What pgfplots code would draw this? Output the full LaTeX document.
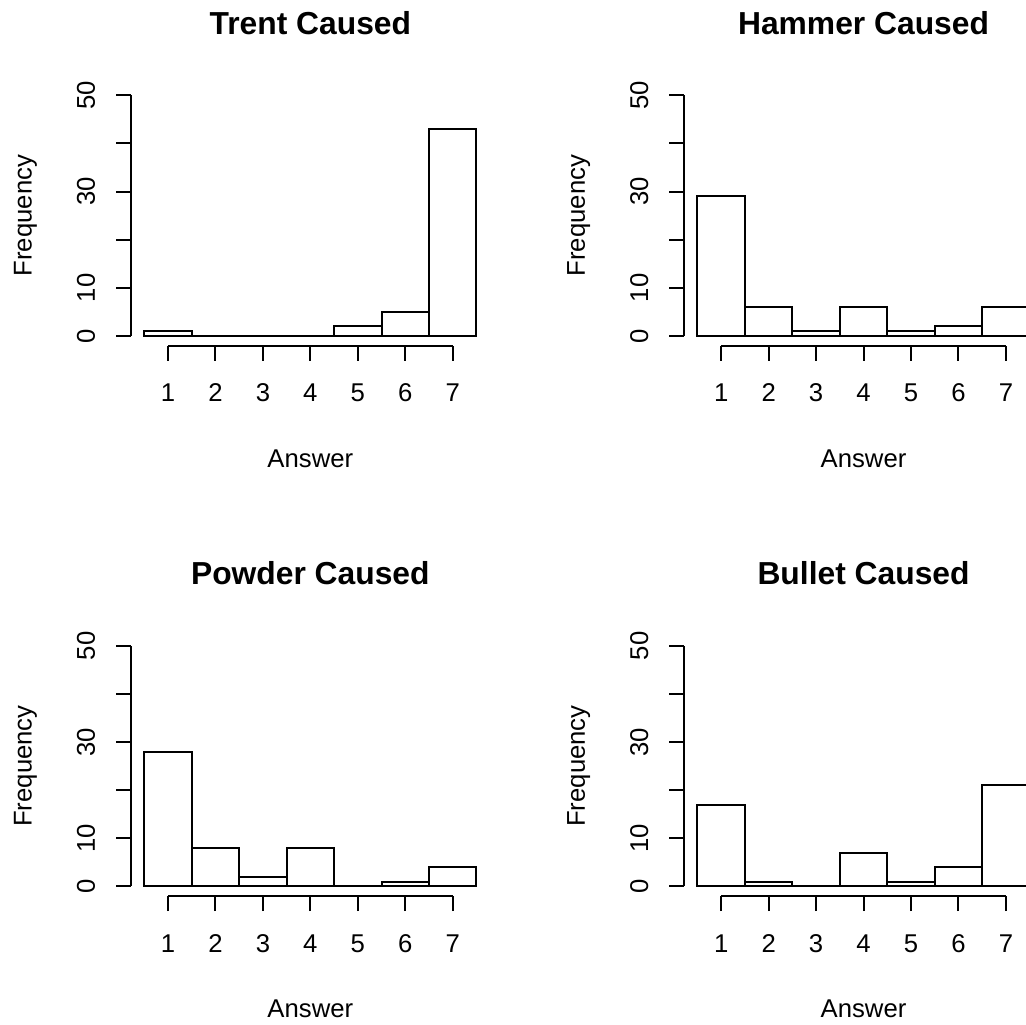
\documentclass[border=0pt]{standalone}
\usepackage{pgfplots}
\pgfplotsset{compat=1.18}
\usepackage{fontspec}
\setmainfont{Liberation Sans}

% one pixel of the reference = 0.5pt
\pgfplotsset{
  rhist/.style={
    scale only axis,
    width=179.35pt, height=130pt,
    anchor=south west,
    xmin=0.22, xmax=7.78, ymin=-2, ymax=52,
    enlargelimits=false,
    clip=false,
    axis x line*=bottom, axis y line*=left,
    axis line style={draw=none},
    xtick={1,...,7},
    ytick={0,10,...,50},
    yticklabels={0,10,,30,,50},
    tick align=outside,
    major tick length=7.5pt,
    every tick/.style={black, line width=1pt},
    /pgf/number format/assume math mode=true,
    tick label style={font=\fontsize{12.85}{15}\selectfont},
    xticklabel style={anchor=base},
    xticklabel shift=20.5pt,
    yticklabel style={rotate=90, anchor=base},
    yticklabel shift=10.5pt,
    xlabel={Answer},
    ylabel={Frequency},
    label style={font=\fontsize{12.85}{15}\selectfont},
    xlabel style={at={(axis description cs:0.5,-0.468)}, anchor=base},
    ylabel style={at={(axis description cs:-0.2768,0.5)}, anchor=base},
    title style={at={(axis description cs:0.5,1.151)}, anchor=base,
      font=\fontsize{15.9}{19}\selectfont\bfseries},
  },
  hbar/.style={ybar interval, draw=black, fill=white, line width=1pt},
}

\begin{document}
\begin{tikzpicture}
\useasboundingbox (0,0) rectangle (513pt,-512pt);
\begin{scope}
\clip (0,0) rectangle (513pt,-512pt);

\begin{axis}[rhist, at={(65.5pt,-172.8pt)}, title={Trent Caused}]
\addplot[hbar] coordinates {(0.5,1) (1.5,0) (2.5,0) (3.5,0) (4.5,2) (5.5,5) (6.5,43) (7.5,43)};
\draw[line width=1pt] (axis cs:1,-2) -- (axis cs:7,-2);
\draw[line width=1pt] (axis cs:0.22,0) -- (axis cs:0.22,50);
\end{axis}

\begin{axis}[rhist, at={(342.1pt,-172.8pt)}, title={Hammer Caused}]
\addplot[hbar] coordinates {(0.5,29) (1.5,6) (2.5,1) (3.5,6) (4.5,1) (5.5,2) (6.5,6) (7.5,6)};
\draw[line width=1pt] (axis cs:1,-2) -- (axis cs:7,-2);
\draw[line width=1pt] (axis cs:0.22,0) -- (axis cs:0.22,50);
\end{axis}

\begin{axis}[rhist, at={(65.5pt,-448.05pt)}, title={Powder Caused}]
\addplot[hbar] coordinates {(0.5,28) (1.5,8) (2.5,2) (3.5,8) (4.5,0) (5.5,1) (6.5,4) (7.5,4)};
\draw[line width=1pt] (axis cs:1,-2) -- (axis cs:7,-2);
\draw[line width=1pt] (axis cs:0.22,0) -- (axis cs:0.22,50);
\end{axis}

\begin{axis}[rhist, at={(342.1pt,-448.05pt)}, title={Bullet Caused}]
\addplot[hbar] coordinates {(0.5,17) (1.5,1) (2.5,0) (3.5,7) (4.5,1) (5.5,4) (6.5,21) (7.5,21)};
\draw[line width=1pt] (axis cs:1,-2) -- (axis cs:7,-2);
\draw[line width=1pt] (axis cs:0.22,0) -- (axis cs:0.22,50);
\end{axis}
\end{scope}
\end{tikzpicture}
\end{document}
